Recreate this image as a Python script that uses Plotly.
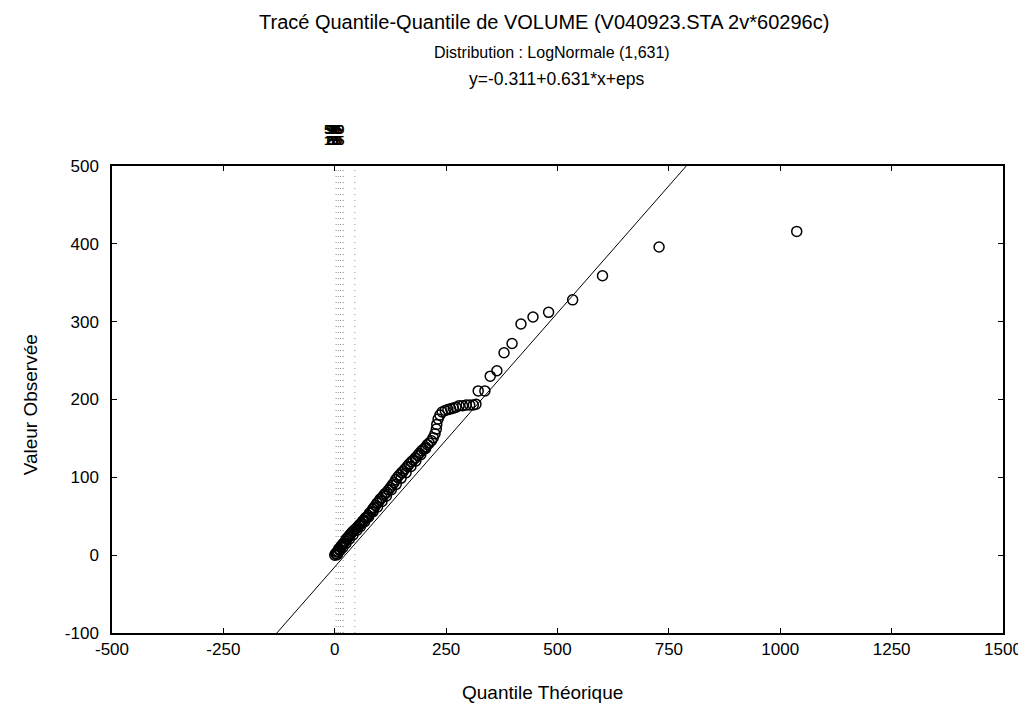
import plotly.graph_objects as go

theo_q = [0, 2, 4, 5, 7, 9, 11, 13, 15, 17, 19, 21, 24, 26, 29, 31, 34, 37, 40, 42,
          45, 48, 51, 54, 57, 60, 63, 66, 69, 72, 75, 78, 82, 85, 88, 92, 95, 99, 102, 106,
          110, 113, 117, 121, 125, 129, 133, 137, 141, 145, 150, 154, 158, 163, 167, 172, 176, 181, 186, 190,
          195, 199, 204, 208, 212, 217, 221, 225, 228, 229, 232, 236,
          241, 248, 254, 260, 266, 272, 279, 287, 295, 303, 311, 317,
          322, 337, 349, 364, 380, 398, 418, 445, 480, 534, 601, 728, 1037,
          6, 12, 18, 25, 33, 41, 50, 58, 67, 76, 86, 96, 106, 116, 127, 138, 149, 160, 171, 182, 193, 204]
obs_v = [0, 2, 1, 4, 5, 8, 7, 10, 12, 13, 15, 16, 18, 21, 22, 24, 26, 28, 30, 31,
         33, 34, 36, 38, 40, 41, 44, 45, 48, 49, 51, 54, 56, 59, 61, 64, 67, 69, 72, 74,
         77, 79, 81, 84, 87, 90, 93, 97, 100, 103, 106, 108, 111, 114, 117, 120, 122, 125, 128, 131,
         134, 136, 139, 142, 144, 147, 151, 156, 162, 168, 175, 180,
         184, 186, 187, 188, 189, 190, 192, 192, 193, 193, 193, 194,
         211, 211, 230, 237, 260, 272, 297, 306, 312, 328, 359, 396, 416,
         1, 6, 10, 15, 21, 26, 32, 37, 43, 49, 56, 62, 69, 76, 84, 91, 99, 106, 114, 121, 129, 137]

# Fitted reference line end points
line_x = [-130, 789]
line_y = [-100, 500]

# Percentile marker positions (top axis)
pct_x = [3, 8, 13, 19, 45]
pct_row1 = ["50", "90", "95", "99"]
pct_row2 = ["10", "25", "50", "75"]

x_ticks = [-500, -250, 0, 250, 500, 750, 1000, 1250, 1500]
y_ticks = [-100, 0, 100, 200, 300, 400, 500]

W, H = 1026, 704
L, R, T, B = 104, 999, 158, 625

fig = go.Figure()

for px in pct_x:
    fig.add_trace(go.Scatter(x=[px, px], y=[-100, 500], mode="lines",
                             line=dict(color="#8c8c8c", width=1, dash="1px,5px"),
                             showlegend=False, hoverinfo="skip"))

fig.add_trace(go.Scatter(x=line_x, y=line_y, mode="lines",
                         line=dict(color="black", width=1), showlegend=False))

fig.add_trace(go.Scatter(x=theo_q, y=obs_v, mode="markers",
                         marker=dict(symbol="circle-open", size=10, color="black",
                                     line=dict(width=1.5, color="black")),
                         showlegend=False))

font = "Liberation Sans, Arial, sans-serif"

def py2paper(py):
    return 1 + (T - py) / (B - T)

def px2paper(px):
    return (px - L) / (R - L)

titles = [("Tracé Quantile-Quantile de VOLUME (V040923.STA 2v*60296c)", 538, 14, 20),
          ("Distribution : LogNormale (1,631)", 546, 45, 16),
          ("y=-0.311+0.631*x+eps", 551, 71, 17.5)]
for txt, cx, py, fs in titles:
    fig.add_annotation(text=txt, xref="paper", yref="paper", x=px2paper(cx), y=py2paper(py),
                       showarrow=False, font=dict(family=font, size=fs, color="black"),
                       xanchor="center", yanchor="middle")

# overlapping percentile labels (blob above the dotted lines)
for i, t in enumerate(pct_row1):
    fig.add_annotation(text="<b>" + t + "</b>", xref="paper", yref="paper",
                       x=px2paper(324 + 2 * i), y=py2paper(121),
                       showarrow=False, font=dict(family=font, size=13, color="black"),
                       xanchor="center", yanchor="middle")
for i, t in enumerate(pct_row2):
    fig.add_annotation(text="<b>" + t + "</b>", xref="paper", yref="paper",
                       x=px2paper(324 + 2 * i), y=py2paper(132),
                       showarrow=False, font=dict(family=font, size=13, color="black"),
                       xanchor="center", yanchor="middle")

fig.add_annotation(text="Valeur Observée", xref="paper", yref="paper",
                   x=px2paper(22), y=py2paper(397), textangle=-90, showarrow=False,
                   font=dict(family=font, size=19, color="black"),
                   xanchor="center", yanchor="middle")
fig.add_annotation(text="Quantile Théorique", xref="paper", yref="paper",
                   x=px2paper(536), y=py2paper(684), showarrow=False,
                   font=dict(family=font, size=19, color="black"),
                   xanchor="center", yanchor="middle")

fig.update_layout(
    width=W, height=H,
    margin=dict(l=L, r=W - R, t=T, b=H - B),
    paper_bgcolor="white", plot_bgcolor="white",
    font=dict(family=font, size=17, color="black"),
    showlegend=False,
    xaxis=dict(range=[-500, 1500], tickvals=x_ticks, ticktext=[str(v) for v in x_ticks],
               showgrid=False, zeroline=False, showline=True, linecolor="black", linewidth=1.5,
               mirror="ticks", ticks="inside", ticklen=5, tickcolor="black",
               tickfont=dict(family=font, size=17)),
    yaxis=dict(range=[-100, 500], tickvals=y_ticks, ticktext=[str(v) for v in y_ticks],
               showgrid=False, zeroline=False, showline=True, linecolor="black", linewidth=1.5,
               mirror="ticks", ticks="inside", ticklen=5, tickcolor="black",
               ticklabelstandoff=8,
               tickfont=dict(family=font, size=17)),
)

fig.write_html("out.html")
